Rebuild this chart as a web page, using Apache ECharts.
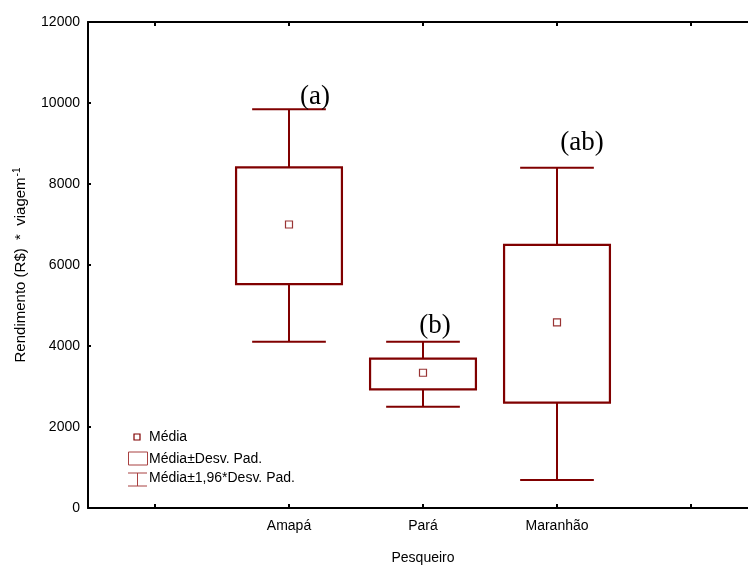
<!DOCTYPE html>
<html>
<head>
<meta charset="utf-8">
<script src="https://cdn.jsdelivr.net/npm/echarts@6/dist/echarts.min.js"></script>
<style>html,body{margin:0;padding:0;background:#fff;}#c{width:748px;height:565px;}</style>
</head>
<body>
<div id="c"></div>
<script>
// ---- data ----
const categories = ['', 'Amapá', 'Pará', 'Maranhão', ''];
const groups = ['Amapá', 'Pará', 'Maranhão'];
const means = [7000, 3340, 4585];
const sdLow = [5530, 2930, 2600];
const sdHigh = [8410, 3690, 6495];
const ciLow = [4105, 2500, 690];
const ciHigh = [9845, 4105, 8400];
const letters = ['(a)', '(b)', '(ab)'];
const yTicks = [0, 2000, 4000, 6000, 8000, 10000, 12000];

// ---- styles ----
const RED = '#800000';
const letterDx = [26, 12, 25];
const letterDy = [1, -2, -11];
const FONT = 'Liberation Sans, Arial, sans-serif';

const chart = echarts.init(document.getElementById('c'), null, {renderer: 'canvas'});

const boxData = groups.map((g, i) => [g, sdLow[i], sdHigh[i], ciLow[i], ciHigh[i], i]);

const option = {
  animation: false,
  backgroundColor: '#fff',
  grid: {left: 88, top: 22, width: 670, height: 486, containLabel: false, outerBoundsMode: 'none'},
  xAxis: [{
    type: 'category',
    data: categories,
    boundaryGap: true,
    axisLine: {lineStyle: {color: '#000', width: 2}},
    axisTick: {show: true, inside: true, alignWithLabel: true, length: 4, lineStyle: {color: '#000', width: 2}},
    axisLabel: {color: '#000', fontSize: 14, fontFamily: FONT, margin: 11, interval: 0},
    splitLine: {show: false},
    name: 'Pesqueiro',
    nameLocation: 'middle',
    nameGap: 43,
    nameTextStyle: {color: '#000', fontSize: 14, fontFamily: FONT}
  }, {
    type: 'category',
    data: categories,
    position: 'top',
    boundaryGap: true,
    axisLine: {lineStyle: {color: '#000', width: 2}},
    axisTick: {show: true, inside: true, alignWithLabel: true, length: 4, lineStyle: {color: '#000', width: 2}},
    axisLabel: {show: false}
  }],
  yAxis: {
    type: 'value',
    min: yTicks[0],
    max: yTicks[yTicks.length - 1],
    interval: 2000,
    axisLine: {show: true, lineStyle: {color: '#000', width: 2}},
    axisTick: {show: true, inside: true, length: 3, lineStyle: {color: '#000', width: 2}},
    axisLabel: {color: '#000', fontSize: 14, fontFamily: FONT, margin: 8, formatter: v => String(v)},
    splitLine: {show: false},
    name: '{n|Rendimento (R$)  *  viagem}{s|-1}',
    nameLocation: 'middle',
    nameGap: 58,
    nameRotate: 90,
    nameTextStyle: {
      color: '#000', fontFamily: FONT,
      rich: {
        n: {fontSize: 15, fontFamily: FONT, color: '#000', lineHeight: 18},
        s: {fontSize: 10, fontFamily: FONT, color: '#000', verticalAlign: 'top', lineHeight: 18, padding: [0, 0, 8, 1]}
      }
    }
  },
  series: [{
    type: 'custom',
    xAxisIndex: 0,
    data: boxData,
    encode: {x: 0, y: [1, 2, 3, 4]},
    renderItem: function (params, api) {
      const ci = api.value(0);
      const band = api.size([1, 0])[0];
      const boxHalf = band * 0.395;
      const capHalf = band * 0.275;
      const pLow = api.coord([ci, api.value(1)]);
      const pHigh = api.coord([ci, api.value(2)]);
      const pCiL = api.coord([ci, api.value(3)]);
      const pCiH = api.coord([ci, api.value(4)]);
      const idx = api.value(5);
      const x = pLow[0];
      const ls = {stroke: RED, lineWidth: 2, fill: null};
      return {
        type: 'group',
        children: [
          {type: 'line', shape: {x1: x, y1: pHigh[1], x2: x, y2: pCiH[1]}, style: ls},
          {type: 'line', shape: {x1: x, y1: pLow[1], x2: x, y2: pCiL[1]}, style: ls},
          {type: 'line', shape: {x1: x - capHalf, y1: pCiH[1], x2: x + capHalf, y2: pCiH[1]}, style: ls},
          {type: 'line', shape: {x1: x - capHalf, y1: pCiL[1], x2: x + capHalf, y2: pCiL[1]}, style: ls},
          {type: 'rect', shape: {x: x - boxHalf, y: pHigh[1], width: boxHalf * 2, height: pLow[1] - pHigh[1]},
            style: {stroke: RED, lineWidth: 2.2, fill: 'none'}},
          {type: 'text', x: x + letterDx[idx], y: pCiH[1] + letterDy[idx],
            style: {text: letters[idx], fill: '#000', font: '27px "Liberation Serif", "Times New Roman", serif',
              textAlign: 'center', textVerticalAlign: 'bottom'}}
        ]
      };
    },
    z: 2
  }, {
    type: 'scatter',
    xAxisIndex: 0,
    data: groups.map((g, i) => [g, means[i]]),
    symbol: 'rect',
    symbolSize: 7,
    itemStyle: {color: '#fff', borderColor: RED, borderWidth: 1.2},
    z: 3
  }],
  graphic: [
    {type: 'rect', shape: {x: 134, y: 434, width: 6, height: 6}, style: {fill: '#fff', stroke: RED, lineWidth: 1.2}},
    {type: 'text', x: 149, y: 437, style: {text: 'Média', fill: '#000', font: '14px ' + FONT, textVerticalAlign: 'middle'}},
    {type: 'rect', shape: {x: 128.5, y: 452, width: 19, height: 13}, style: {fill: '#fff', stroke: '#a84040', lineWidth: 1}},
    {type: 'text', x: 149, y: 459, style: {text: 'Média±Desv. Pad.', fill: '#000', font: '14px ' + FONT, textVerticalAlign: 'middle'}},
    {type: 'line', shape: {x1: 128, y1: 473, x2: 147, y2: 473}, style: {stroke: '#a84040', lineWidth: 1}},
    {type: 'line', shape: {x1: 128, y1: 486, x2: 147, y2: 486}, style: {stroke: '#a84040', lineWidth: 1}},
    {type: 'line', shape: {x1: 137.5, y1: 473, x2: 137.5, y2: 486}, style: {stroke: '#a84040', lineWidth: 1}},
    {type: 'text', x: 149, y: 478, style: {text: 'Média±1,96*Desv. Pad.', fill: '#000', font: '14px ' + FONT, textVerticalAlign: 'middle'}}
  ]
};
chart.setOption(option);
</script>
</body>
</html>
